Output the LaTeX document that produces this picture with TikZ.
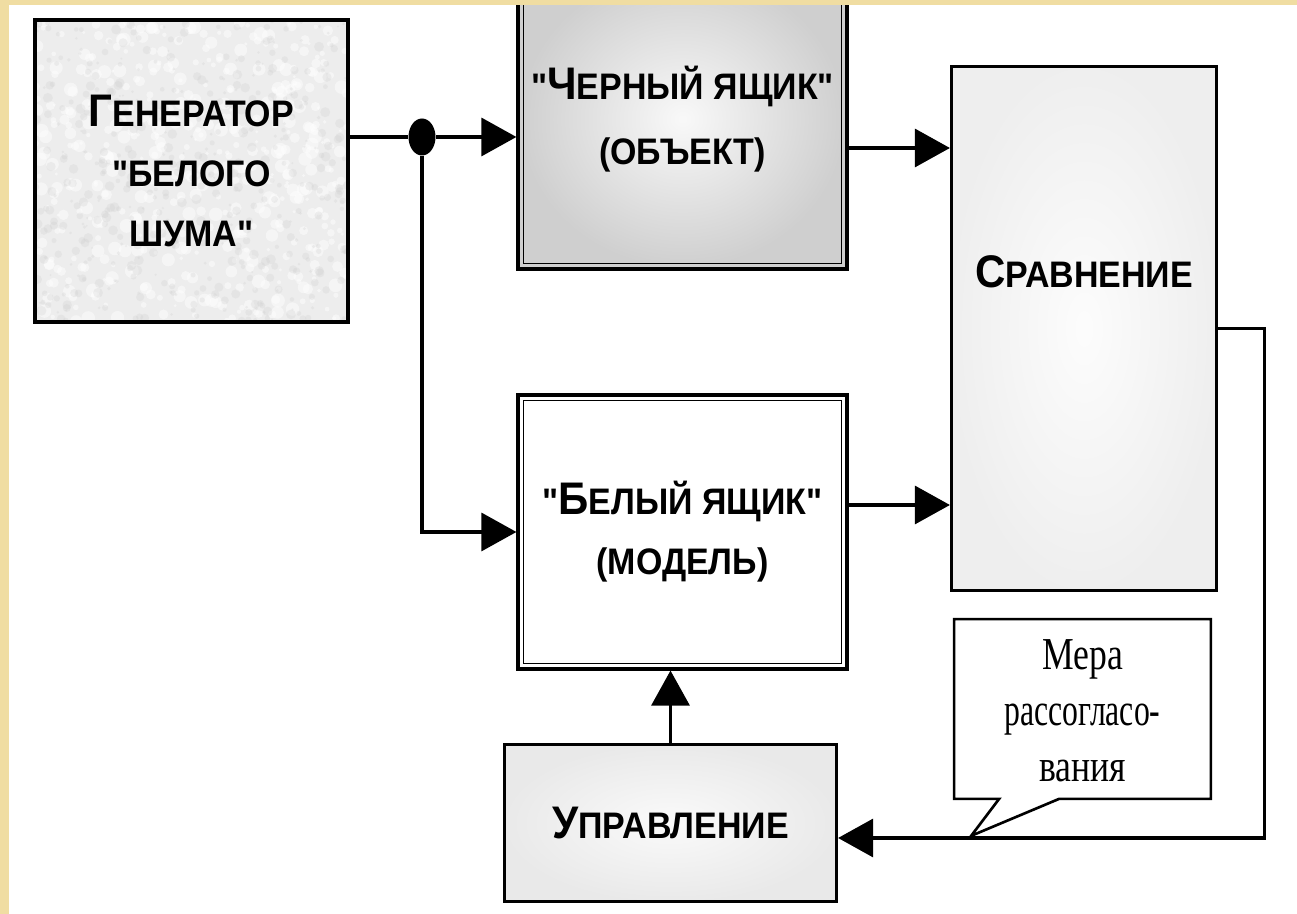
\documentclass[tikz,border=0pt]{standalone}
\usepackage{fontspec}
\usepackage{graphicx}
\setmainfont{Liberation Sans}
\newfontfamily\boxfont{Liberation Sans}[FakeStretch=0.92]
\newfontfamily\notefont{Liberation Serif}[FakeStretch=0.78]
\usetikzlibrary{arrows.meta, positioning, calc, shapes.geometric}
\definecolor{cFrame}{RGB}{240,221,162}
\newcommand{\initcap}[2]{{\fontsize{26}{34}\selectfont #1}#2}
\tikzset{
	blk/.style={draw=black, line width=1.8pt, align=center, inner sep=0pt,
		font=\boxfont\bfseries\fontsize{21}{34}\selectfont},
	noisebox/.style={blk, fill=gray!14,
		path picture={
			\path (path picture bounding box.north west) coordinate (nw);
			\foreach \k in {1,...,500}
				\fill[white, opacity=0.45] ([shift={({313*rnd},{302*rnd})}]nw) circle ({0.3mm+1.1mm*rnd});
			\foreach \k in {1,...,500}
				\fill[gray!40, opacity=0.25] ([shift={({313*rnd},{302*rnd})}]nw) circle ({0.2mm+0.8mm*rnd});
		}},
	objbox/.style={blk, inner color=gray!5, outer color=gray!38},
	mdlbox/.style={blk, fill=white},
	cmpbox/.style={blk, inner color=gray!2, outer color=gray!13},
	ctlbox/.style={blk, inner color=gray!4, outer color=gray!17},
	innerframe/.style={line width=0.8pt},
	notetext/.style={align=center, inner sep=0pt, font=\notefont\fontsize{26}{32}\selectfont},
	flow/.style={-{Triangle[length=7mm, width=7.6mm]}, line width=1.8pt},
	junction/.style={ellipse, fill=black, inner sep=0pt, minimum width=5.4mm, minimum height=7.4mm},
}
\begin{document}
\begin{tikzpicture}[x=0.2mm, y=-0.2mm]
	\path[use as bounding box, fill=white] (0,0) rectangle (1297,914);
	\clip (0,0) rectangle (1297,914);
	% blocks
	\node[noisebox, minimum width=62.6mm, minimum height=60.4mm] (gen) at (191.5,171)
		{\initcap{Г}{ЕНЕРАТОР}\\"БЕЛОГО\\ШУМА"};
	\node[objbox, minimum width=65.8mm, minimum height=60mm,
		font=\boxfont\bfseries\fontsize{21}{37}\selectfont] (obj) at (682.5,119)
		{"\initcap{Ч}{ЕРНЫЙ} ЯЩИК"\\(ОБЪЕКТ)};
	\node[mdlbox, minimum width=65.8mm, minimum height=54.8mm] (mdl) at (682.5,532)
		{"\initcap{Б}{ЕЛЫЙ} ЯЩИК"\\(МОДЕЛЬ)};
	\node[cmpbox, minimum width=53mm, minimum height=104.8mm] (cmp) at (1084,328.5) {};
	\node[blk, draw=none] (cmptext) at ([yshift=11.3mm]cmp.center) {\initcap{С}{РАВНЕНИЕ}};
	\node[ctlbox, minimum width=66.4mm, minimum height=31.4mm] (ctl) at (670.5,823)
		{\initcap{У}{ПРАВЛЕНИЕ}};
	\draw[innerframe] ([shift={(7,7)}]obj.north west) rectangle ([shift={(-7,-7)}]obj.south east);
	\draw[innerframe] ([shift={(7,7)}]mdl.north west) rectangle ([shift={(-7,-7)}]mdl.south east);
	\node[junction] (split) at (422,137) {};

	% connectors
	\draw[line width=1.8pt] (split -| gen.east) -- (split);
	\draw[flow] (split) -- (split -| obj.west);
	\draw[flow] (split) |- (mdl.west);
	\path ([yshift=-5.8mm]obj.east) coordinate (objout);
	\draw[flow] (objout) -- (objout -| cmp.west);
	\path ([yshift=5.4mm]mdl.east) coordinate (mdlout);
	\draw[flow] (mdlout) -- (mdlout -| cmp.west);
	\draw[flow] (cmp.east) -- ++(46,0) |- ([yshift=-3mm]ctl.east);
	\draw[flow] (ctl.north) -- (ctl.north |- mdl.south);

	% callout
	\node[notetext, minimum width=51.2mm, minimum height=35.8mm] (mis) at (1082.5,709) {};
	\coordinate (tip) at ([shift={(17,37)}]mis.south west);
	\draw[line width=1.5pt, fill=white] ([xshift=9mm]mis.south west) -- (mis.south west)
		-- (mis.north west) -- (mis.north east) -- (mis.south east)
		-- ([xshift=21mm]mis.south west) -- (tip) -- cycle;
	\node[notetext] (mistext) at ([yshift=-0.4mm]mis.center)
		{Мера\\\scalebox{0.89}[1]{рассогласо-}\\вания};

	% frame of the slide
	\fill[cFrame] (0,0) rectangle (1297,5);
	\fill[cFrame] (0,0) rectangle (9,914);
\end{tikzpicture}
\end{document}
